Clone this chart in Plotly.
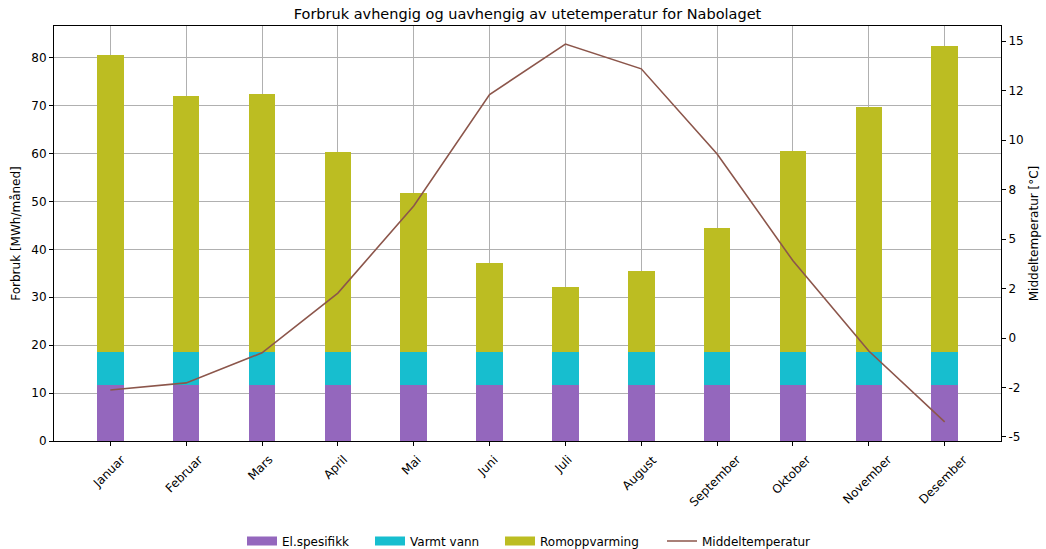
import plotly.graph_objects as go

months = ["Januar", "Februar", "Mars", "April", "Mai", "Juni", "Juli",
          "August", "September", "Oktober", "November", "Desember"]
el_spesifikk = [11.7] * 12
varmt_vann = [6.95] * 12
romoppvarming = [61.9, 53.4, 53.8, 41.7, 33.1, 18.5, 13.6, 16.9, 25.9, 41.9, 51.1, 63.9]
middeltemperatur = [-2.63, -2.27, -0.75, 2.27, 6.67, 12.3, 14.85, 13.6, 9.3, 3.9, -0.66, -4.24]

temp_ticks = [-5, -2.5, 0, 2.5, 5, 7.5, 10, 12.5, 15]
temp_ticktext = [f"{v:.0f}" for v in temp_ticks]

colors = {"El.spesifikk": "#9467bd", "Varmt vann": "#17becf",
          "Romoppvarming": "#bcbd22", "Middeltemperatur": "#8c564b"}

x = list(range(len(months)))
bar_width = 0.35

fig = go.Figure()
for name, vals in [("El.spesifikk", el_spesifikk), ("Varmt vann", varmt_vann),
                   ("Romoppvarming", romoppvarming)]:
    fig.add_trace(go.Bar(x=x, y=vals, width=bar_width, name=name, showlegend=False,
                         marker=dict(color=colors[name], line=dict(width=0))))
fig.add_trace(go.Scatter(x=x, y=middeltemperatur, mode="lines", name="Middeltemperatur",
                         line=dict(color=colors["Middeltemperatur"], width=1.6),
                         yaxis="y2", legend="legend4"))

# legend keys drawn as wide patches, one legend per entry
for i, name in enumerate(["El.spesifikk", "Varmt vann", "Romoppvarming"]):
    fig.add_trace(go.Scatter(x=[None], y=[None], mode="lines", name=name,
                             line=dict(color=colors[name], width=9),
                             legend="legend" if i == 0 else f"legend{i + 1}"))

font = dict(family="DejaVu Sans", size=12, color="black")

# rotated month labels centred under each tick
for i, m in enumerate(months):
    fig.add_annotation(x=i, y=0, xref="x", yref="paper", yshift=-9, xshift=-2,
                       text=m, showarrow=False, textangle=-45,
                       xanchor="center", yanchor="top", font=font)

legend_x = [242, 370, 500, 662]
legend_common = dict(orientation="h", xref="container", yref="container",
                     y=8 / 549, yanchor="middle", xanchor="left",
                     font=font, itemwidth=30, bgcolor="rgba(0,0,0,0)")

fig.update_layout(
    width=1046, height=549,
    margin=dict(l=54, r=45, t=26, b=108, autoexpand=False),
    paper_bgcolor="white", plot_bgcolor="white",
    barmode="stack",
    font=font,
    title=dict(text="Forbruk avhengig og uavhengig av utetemperatur for Nabolaget",
               x=0.5, xref="paper", xanchor="center", y=1 - 14 / 549, yanchor="middle",
               font=dict(family="DejaVu Sans", size=14.5, color="black")),
    xaxis=dict(range=[-0.7425, 11.7425], tickvals=x, showticklabels=False,
               showgrid=True, gridcolor="#b0b0b0", gridwidth=0.8,
               ticks="outside", ticklen=4, tickcolor="black",
               showline=True, linecolor="black", linewidth=1, mirror=True,
               zeroline=False),
    yaxis=dict(range=[0, 86.625], tickvals=[0, 10, 20, 30, 40, 50, 60, 70, 80],
               showgrid=True, gridcolor="#b0b0b0", gridwidth=0.8,
               ticks="outside", ticklen=4, tickcolor="black",
               showline=True, linecolor="black", linewidth=1,
               zeroline=False,
               title=dict(text="Forbruk [MWh/måned]", standoff=8, font=font)),
    yaxis2=dict(overlaying="y", side="right", range=[-5.2045, 15.7645],
                tickvals=temp_ticks, ticktext=temp_ticktext,
                showgrid=False, zeroline=False,
                ticks="outside", ticklen=4, tickcolor="black",
                showline=True, linecolor="black", linewidth=1,
                title=dict(text="Middeltemperatur [°C]", standoff=6, font=font)),
    legend=dict(x=legend_x[0] / 1046, **legend_common),
    legend2=dict(x=legend_x[1] / 1046, **legend_common),
    legend3=dict(x=legend_x[2] / 1046, **legend_common),
    legend4=dict(x=legend_x[3] / 1046, **legend_common),
    showlegend=True,
)

fig.write_html("out.html")
